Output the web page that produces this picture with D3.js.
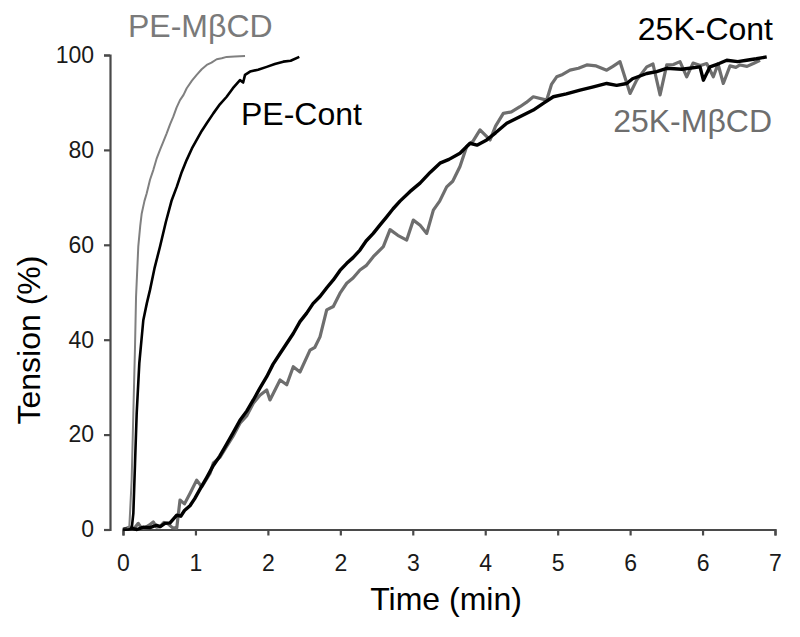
<!DOCTYPE html>
<html>
<head>
<meta charset="utf-8">
<script src="https://cdn.jsdelivr.net/npm/d3@7"></script>
<style>
  html, body { margin: 0; padding: 0; background: #fff; }
  svg { display: block; }
  text { font-family: "Liberation Sans", Arial, Helvetica, sans-serif; }
</style>
</head>
<body>
<svg id="chart" width="800" height="637"></svg>
<script>
// ---- data (time in min, tension in %) ----
const xTickValues = [0, 7/9, 14/9, 21/9, 28/9, 35/9, 42/9, 49/9, 56/9, 7];
const xTickLabels = ["0", "1", "2", "2", "3", "4", "5", "6", "6", "7"];
const yTickValues = [0, 20, 40, 60, 80, 100];

const peMbcd = [
  [0, 0], [0.043, 0.2], [0.068, 0.6], [0.093, 10.4], [0.111, 24.5], [0.129, 38.5],
  [0.140, 49.0], [0.164, 59.6], [0.185, 64.0], [0.201, 66.6], [0.230, 69.2], [0.254, 70.8],
  [0.290, 73.7], [0.326, 75.8], [0.360, 78.1], [0.397, 80.0], [0.430, 81.6], [0.469, 83.5],
  [0.505, 85.4], [0.540, 87.0], [0.575, 88.9], [0.612, 90.5], [0.650, 91.6], [0.684, 93.0],
  [0.740, 94.6], [0.791, 95.8], [0.845, 97.0], [0.899, 97.9], [0.950, 98.4], [1.006, 99.1],
  [1.060, 99.3], [1.113, 99.6], [1.200, 99.7], [1.310, 99.8]
];

const peCont = [
  [0, 0], [0.060, 0], [0.093, 0.1], [0.111, 3.4], [0.129, 13.9], [0.147, 24.5],
  [0.175, 35.0], [0.218, 44.1], [0.255, 47.6], [0.290, 50.5], [0.340, 55.2], [0.397, 59.6],
  [0.460, 64.8], [0.523, 69.4], [0.577, 72.2], [0.630, 75.3], [0.684, 77.9], [0.740, 80.3],
  [0.791, 82.1], [0.845, 84.0], [0.899, 85.6], [0.970, 87.7], [1.040, 89.6], [1.113, 91.2],
  [1.180, 93.0], [1.256, 94.7], [1.290, 94.2], [1.310, 95.8], [1.364, 96.5], [1.450, 96.9],
  [1.543, 97.5], [1.630, 98.1], [1.721, 98.6], [1.800, 98.8], [1.893, 99.6]
];

const k25Cont = [
  [0, 0], [0.08, 0.3], [0.15, 0], [0.22, 0.5], [0.29, 0.4], [0.36, 0.9], [0.40, 0.6],
  [0.45, 1.3], [0.505, 1.4], [0.54, 2.2], [0.577, 3.0], [0.62, 2.8], [0.66, 4.0],
  [0.719, 5.0], [0.77, 6.5], [0.827, 8.5], [0.90, 11.0], [0.970, 13.5], [1.04, 15.5],
  [1.113, 18.0], [1.18, 20.3], [1.256, 23.0], [1.33, 25.0], [1.399, 27.3], [1.47, 29.8],
  [1.543, 32.2], [1.61, 34.8], [1.686, 37.1], [1.75, 39.0], [1.828, 41.3], [1.90, 43.8],
  [1.972, 45.6], [2.04, 47.6], [2.115, 49.1], [2.19, 51.0], [2.258, 52.6], [2.33, 54.6],
  [2.402, 56.1], [2.47, 57.3], [2.544, 58.9], [2.61, 60.8], [2.687, 62.4], [2.76, 64.2],
  [2.831, 65.9], [2.90, 67.6], [2.974, 69.2], [3.08, 71.2], [3.189, 73.0], [3.30, 75.3],
  [3.403, 77.2], [3.50, 78.0], [3.618, 79.3], [3.726, 81.4], [3.80, 81.0], [3.905, 82.1],
  [4.00, 83.6], [4.120, 85.6], [4.26, 87.0], [4.405, 88.4], [4.52, 89.9], [4.620, 91.2],
  [4.76, 91.8], [4.907, 92.6], [5.05, 93.3], [5.193, 94.0], [5.30, 93.6], [5.408, 94.0],
  [5.47, 95.0], [5.623, 96.1], [5.73, 96.5], [5.838, 97.2], [6.00, 97.0], [6.195, 97.5],
  [6.231, 94.7], [6.302, 97.5], [6.40, 98.2], [6.482, 98.9], [6.60, 98.6], [6.696, 98.9],
  [6.80, 99.2], [6.911, 99.6]
];

const k25Mbcd = [
  [0, 0], [0.075, 0.5], [0.12, 0.2], [0.164, 1.3], [0.20, 0.3], [0.236, 0.4], [0.28, 0.9],
  [0.325, 1.6], [0.36, 0.5], [0.397, 0.6], [0.44, 1.5], [0.483, 1.2], [0.53, 0.4],
  [0.577, 0.3], [0.612, 6.2], [0.66, 5.4], [0.719, 7.6], [0.791, 10.4], [0.845, 9.0],
  [0.934, 11.8], [0.970, 14.0], [1.04, 15.2], [1.113, 17.5], [1.18, 19.6], [1.256, 22.4],
  [1.33, 24.0], [1.399, 26.6], [1.47, 28.3], [1.543, 29.4], [1.578, 27.3], [1.686, 31.5],
  [1.758, 30.5], [1.828, 34.3], [1.900, 33.2], [2.008, 37.8], [2.06, 38.4], [2.115, 40.6],
  [2.187, 46.3], [2.258, 47.0], [2.33, 49.8], [2.402, 51.9], [2.47, 53.0], [2.544, 54.7],
  [2.61, 55.6], [2.687, 57.5], [2.795, 59.6], [2.867, 63.2], [2.95, 62.0], [3.046, 61.0],
  [3.117, 65.2], [3.19, 64.1], [3.261, 62.4], [3.332, 67.3], [3.40, 69.2], [3.475, 72.2],
  [3.54, 73.4], [3.618, 76.5], [3.690, 80.7], [3.76, 81.9], [3.833, 84.2], [3.941, 82.1],
  [4.00, 85.0], [4.083, 87.7], [4.17, 88.0], [4.262, 89.1], [4.33, 90.0], [4.405, 91.2],
  [4.549, 90.5], [4.60, 93.8], [4.656, 95.4], [4.72, 95.9], [4.799, 96.8], [4.89, 97.2],
  [4.979, 97.9], [5.08, 97.7], [5.193, 96.8], [5.26, 97.6], [5.336, 98.6], [5.444, 91.9],
  [5.515, 94.7], [5.623, 97.5], [5.690, 98.1], [5.766, 91.6], [5.838, 97.9], [5.91, 98.0],
  [5.980, 98.6], [6.052, 95.4], [6.120, 98.3], [6.20, 97.8], [6.267, 98.2], [6.338, 95.4],
  [6.388, 98.1], [6.445, 94.0], [6.517, 97.7], [6.58, 97.4], [6.624, 97.9], [6.70, 97.6],
  [6.767, 98.2], [6.839, 98.9]
];

const seriesLabels = ["PE-M\u03B2CD", "PE-Cont", "25K-Cont", "25K-M\u03B2CD"];

// ---- drawing ----
const svg = d3.select("#chart");
const x = d3.scaleLinear().domain([0, 7]).range([123, 775]);
const y = d3.scaleLinear().domain([0, 100]).range([529.5, 55]);

const axisColor = "#4a4a4a";

const xAxis = d3.axisBottom(x)
  .tickValues(xTickValues)
  .tickFormat((d, i) => xTickLabels[i])
  .tickSize(6)
  .tickPadding(19);
const gx = svg.append("g").attr("transform", "translate(0,529.5)").call(xAxis);

const yAxis = d3.axisLeft(y)
  .tickValues(yTickValues)
  .tickSize(6)
  .tickPadding(10);
const gy = svg.append("g").attr("transform", "translate(110,0)").call(yAxis);

[gx, gy].forEach(g => {
  g.select(".domain").attr("stroke", axisColor).attr("stroke-width", 2.2);
  g.selectAll(".tick line").attr("stroke", axisColor).attr("stroke-width", 2.2);
  g.selectAll(".tick text")
    .attr("fill", "#1a1a1a")
    .style("font-size", "23px")
    .style("font-family", "'Liberation Sans', Arial, sans-serif");
});

const line = d3.line().x(d => x(d[0])).y(d => y(d[1]));

const series = [
  { data: k25Mbcd, color: "#6e6e6e", width: 3.2 },
  { data: k25Cont, color: "#000000", width: 3.4 },
  { data: peMbcd, color: "#808080", width: 2.0 },
  { data: peCont, color: "#000000", width: 2.6 }
];
series.forEach(s => {
  svg.append("path")
    .attr("d", line(s.data))
    .attr("fill", "none")
    .attr("stroke", s.color)
    .attr("stroke-width", s.width)
    .attr("stroke-linejoin", "round");
});

// series labels
const labelStyle = sel => sel.style("font-size", "32px");
svg.append("text").attr("x", 128).attr("y", 37).attr("fill", "#7a7a7a")
  .text(seriesLabels[0]).call(labelStyle);
svg.append("text").attr("x", 241).attr("y", 125).attr("fill", "#000")
  .text(seriesLabels[1]).call(labelStyle);
svg.append("text").attr("x", 773).attr("y", 40).attr("fill", "#000")
  .attr("text-anchor", "end").text(seriesLabels[2]).call(labelStyle);
svg.append("text").attr("x", 772).attr("y", 132).attr("fill", "#6e6e6e")
  .attr("text-anchor", "end").text(seriesLabels[3]).call(labelStyle);

// axis titles
svg.append("text").attr("x", 446).attr("y", 610).attr("text-anchor", "middle")
  .attr("fill", "#000").style("font-size", "32px").text("Time (min)");
svg.append("text").attr("transform", "translate(40,340) rotate(-90)")
  .attr("text-anchor", "middle").attr("fill", "#000").style("font-size", "32px")
  .text("Tension (%)");
</script>
</body>
</html>
